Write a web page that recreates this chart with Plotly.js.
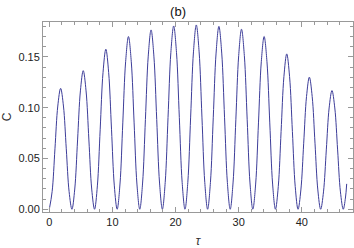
<!DOCTYPE html>
<html>
<head>
<meta charset="utf-8">
<script src="https://cdn.plot.ly/plotly-3.0.1.min.js"></script>
<style>
  html, body { margin: 0; padding: 0; background: #fff; }
  #grafico { width: 354px; height: 248px; }
</style>
</head>
<body>
<div id="grafico"></div>
<script>
// valores (b): C contra tau
var tau = [
    0.000, 0.448, 0.895, 1.343, 1.791, 2.239, 2.686, 3.134,
    3.582, 4.029, 4.477, 4.925, 5.372, 5.820, 6.268, 6.715,
    7.163, 7.611, 8.058, 8.506, 8.954, 9.401, 9.849, 10.297,
    10.745, 11.192, 11.640, 12.087, 12.535, 12.983, 13.430, 13.878,
    14.326, 14.774, 15.221, 15.669, 16.117, 16.564, 17.012, 17.460,
    17.908, 18.355, 18.803, 19.250, 19.698, 20.146, 20.593, 21.041,
    21.489, 21.937, 22.384, 22.832, 23.279, 23.727, 24.175, 24.622,
    25.071, 25.518, 25.966, 26.413, 26.861, 27.309, 27.756, 28.204,
    28.652, 29.100, 29.547, 29.995, 30.442, 30.890, 31.338, 31.785,
    32.234, 32.681, 33.129, 33.576, 34.024, 34.472, 34.919, 35.367,
    35.815, 36.263, 36.710, 37.158, 37.605, 38.053, 38.501, 38.948,
    39.397, 39.844, 40.292, 40.739, 41.187, 41.635, 42.082, 42.530,
    42.978, 43.426, 43.873, 44.321, 44.768, 45.216, 45.664, 46.111,
    46.560, 46.900, 47.100
];

var C = [
    0.0000, 0.0174, 0.0595, 0.1016, 0.1190, 0.1016, 0.0595, 0.0174,
    0.0000, 0.0199, 0.0682, 0.1165, 0.1364, 0.1165, 0.0682, 0.0199,
    0.0000, 0.0230, 0.0788, 0.1345, 0.1575, 0.1345, 0.0788, 0.0230,
    0.0000, 0.0248, 0.0850, 0.1452, 0.1700, 0.1452, 0.0850, 0.0248,
    0.0000, 0.0258, 0.0883, 0.1507, 0.1765, 0.1507, 0.0883, 0.0258,
    0.0000, 0.0263, 0.0902, 0.1541, 0.1804, 0.1541, 0.0902, 0.0263,
    0.0000, 0.0265, 0.0907, 0.1549, 0.1814, 0.1549, 0.0907, 0.0265,
    0.0000, 0.0263, 0.0900, 0.1537, 0.1800, 0.1537, 0.0900, 0.0263,
    0.0000, 0.0259, 0.0886, 0.1513, 0.1772, 0.1513, 0.0886, 0.0259,
    0.0000, 0.0248, 0.0850, 0.1452, 0.1700, 0.1452, 0.0850, 0.0248,
    0.0000, 0.0223, 0.0765, 0.1306, 0.1529, 0.1306, 0.0765, 0.0223,
    0.0000, 0.0190, 0.0650, 0.1110, 0.1300, 0.1110, 0.0650, 0.0190,
    0.0000, 0.0171, 0.0584, 0.0997, 0.1168, 0.0997, 0.0584, 0.0171,
    0.0000, 0.0110, 0.0250
];

var xTicks = [0, 10, 20, 30, 40];
var yTicks = [0.00, 0.05, 0.10, 0.15];
var yTickText = ['0.00', '0.05', '0.10', '0.15'];

var dados = [{
    x: tau,
    y: C,
    mode: 'lines',
    line: {shape: 'spline', smoothing: 1, color: '#3d3d99', width: 1},
    type: 'scatter',
    hoverinfo: 'skip'
}];

var eixo = {
    showline: true,
    linecolor: '#999999',
    linewidth: 1,
    mirror: 'allticks',
    showgrid: false,
    zeroline: false,
    ticks: 'inside',
    ticklen: 5,
    tickwidth: 1,
    tickcolor: '#999999',
    tickfont: {family: 'Liberation Sans, Arial, sans-serif', size: 11, color: '#222'}
};

var estilo = {
    width: 354,
    height: 248,
    margin: {l: 43, r: 1, t: 22, b: 36},
    paper_bgcolor: '#ffffff',
    plot_bgcolor: '#ffffff',
    showlegend: false,
    font: {family: 'Liberation Sans, Arial, sans-serif', size: 11, color: '#222'},
    title: {
        text: '(b)',
        font: {size: 13, color: '#111'},
        x: 0.503, xanchor: 'center',
        y: 0.955, yanchor: 'middle'
    },
    xaxis: Object.assign({}, eixo, {
        range: [-1.0, 48.1],
        tickvals: xTicks,
        minor: {dtick: 2, ticklen: 3, tickcolor: '#999999', ticks: 'inside'},
        title: {text: '<i>τ</i>', font: {size: 12, color: '#333'}, standoff: 10}
    }),
    yaxis: Object.assign({}, eixo, {
        range: [-0.0027, 0.1843],
        tickvals: yTicks,
        ticktext: yTickText,
        minor: {dtick: 0.01, ticklen: 3, tickcolor: '#999999', ticks: 'inside'},
        title: {text: 'C', font: {size: 12, color: '#333'}, standoff: 12}
    })
};

Plotly.newPlot('grafico', dados, estilo, {staticPlot: true, displayModeBar: false});
</script>
</body>
</html>
